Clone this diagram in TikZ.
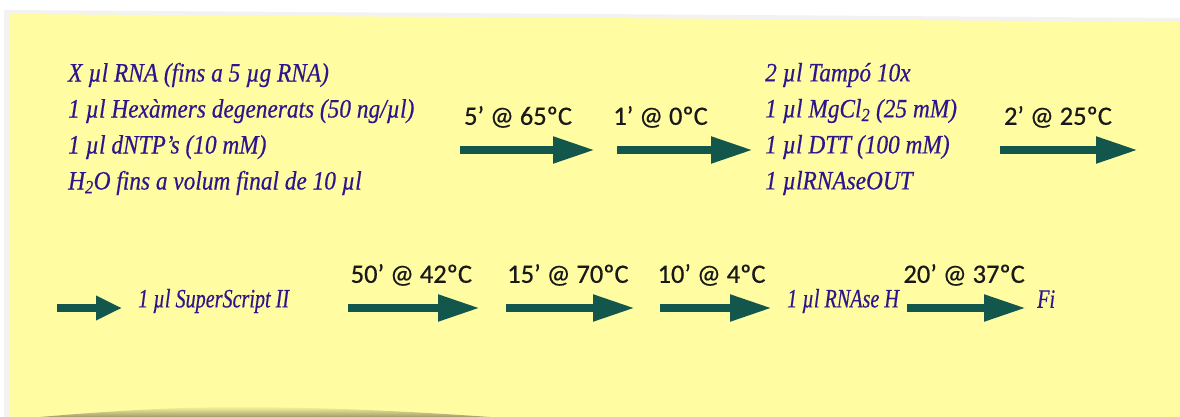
\documentclass[tikz,border=0pt]{standalone}
\usepackage{fontspec}
\setmainfont{Liberation Serif}
\newfontfamily\handfont[FakeStretch=0.88,FakeBold=0.4]{Liberation Serif}
\newfontfamily\handnarrow[FakeStretch=0.76,FakeBold=0.4]{Liberation Serif}
\newfontfamily\labelfont[FakeBold=0.5]{Carlito}
\usetikzlibrary{arrows.meta,calc}
\definecolor{note}{RGB}{255,252,162}
\definecolor{notedark}{RGB}{160,155,105}
\definecolor{ink}{RGB}{45,22,140}
\definecolor{arrowgreen}{RGB}{18,86,76}
\definecolor{labelink}{RGB}{25,25,25}
\tikzset{
  recipe/.style={anchor=west, inner sep=0pt, text=ink,
    font=\handfont\itshape\fontsize{26.5}{36}\selectfont, align=left},
  narrowrecipe/.style={recipe,
    font=\handnarrow\itshape\fontsize{26.5}{36}\selectfont},
  templabel/.style={anchor=south, inner sep=0pt, text=labelink,
    font=\labelfont\fontsize{26.5}{30}\selectfont},
  flow/.style={draw=arrowgreen, line width=8pt,
    -{Triangle[length=42pt,width=25pt]}},
  shortflow/.style={draw=arrowgreen, line width=8pt,
    -{Triangle[length=26pt,width=23pt]}}
}
\begin{document}
\begin{tikzpicture}[x=1pt,y=-1pt]
  \useasboundingbox (0,0) rectangle (1180,417);
  % paper and sticky note
  \fill[white] (0,0) rectangle (1180,417);
  \fill[black!5] (4,10) -- (1180,18) -- (1180,417) -- (4,417) -- cycle;
  \fill[note] (10,14) -- (1180,22) -- (1180,417) -- (10,417) -- cycle;
  % curled lower edge of the note
  \shade[top color=note, bottom color=notedark]
    (40,417) .. controls (120,410) and (200,406) .. (260,407)
    .. controls (340,408) and (420,412) .. (490,417) -- cycle;

  % first row
  \node[recipe] (mix1) at (68,129) {%
    X µl RNA (fins a 5 µg RNA)\\
    1 µl Hexàmers degenerats (50 ng/µl)\\
    1 µl dNTP’s (10 mM)\\
    H\textsubscript{2}O fins a volum final de 10 µl};
  \coordinate (a1s) at (460,150);
  \coordinate (a1e) at (595,150);
  \coordinate (a2s) at (617,150);
  \coordinate (a2e) at (753,150);
  \node[recipe] (mix2) at (765,129) {%
    2 µl Tampó 10x\\
    1 µl MgCl\textsubscript{2} (25 mM)\\
    1 µl DTT (100 mM)\\
    1 µlRNAseOUT};
  \coordinate (a3s) at (1000,150);
  \coordinate (a3e) at (1138,150);
  \draw[flow] (a1s) -- (a1e);
  \draw[flow] (a2s) -- (a2e);
  \draw[flow] (a3s) -- (a3e);
  \node[templabel] (t1) at ($(a1s)!0.43!(a1e)+(0,-22)$) {5’ @ 65ºC};
  \node[templabel] (t2) at ($(a2s)!0.32!(a2e)+(0,-22)$) {1’ @ 0ºC};
  \node[templabel] (t3) at ($(a3s)!0.42!(a3e)+(0,-22)$) {2’ @ 25ºC};

  % second row
  \coordinate (b0s) at (57,308);
  \coordinate (b0e) at (122,308);
  \node[narrowrecipe] (ss) at (138,301) {1 µl SuperScript II};
  \coordinate (b1s) at (348,308);
  \coordinate (b1e) at (480,308);
  \coordinate (b2s) at (506,308);
  \coordinate (b2e) at (635,308);
  \coordinate (b3s) at (660,308);
  \coordinate (b3e) at (772,308);
  \node[narrowrecipe] (rh) at (787,301) {1 µl RNAse H};
  \coordinate (b4s) at (907,308);
  \coordinate (b4e) at (1026,308);
  \node[narrowrecipe] (fi) at (1037,299) {Fi};
  \draw[shortflow] (b0s) -- (b0e);
  \draw[flow] (b1s) -- (b1e);
  \draw[flow] (b2s) -- (b2e);
  \draw[flow] (b3s) -- (b3e);
  \draw[flow] (b4s) -- (b4e);
  \node[templabel] (t4) at ($(b1s)!0.48!(b1e)+(0,-22)$) {50’ @ 42ºC};
  \node[templabel] (t5) at ($(b2s)!0.48!(b2e)+(0,-22)$) {15’ @ 70ºC};
  \node[templabel] (t6) at ($(b3s)!0.46!(b3e)+(0,-22)$) {10’ @ 4ºC};
  \node[templabel] (t7) at ($(b4s)!0.48!(b4e)+(0,-22)$) {20’ @ 37ºC};
\end{tikzpicture}
\end{document}
